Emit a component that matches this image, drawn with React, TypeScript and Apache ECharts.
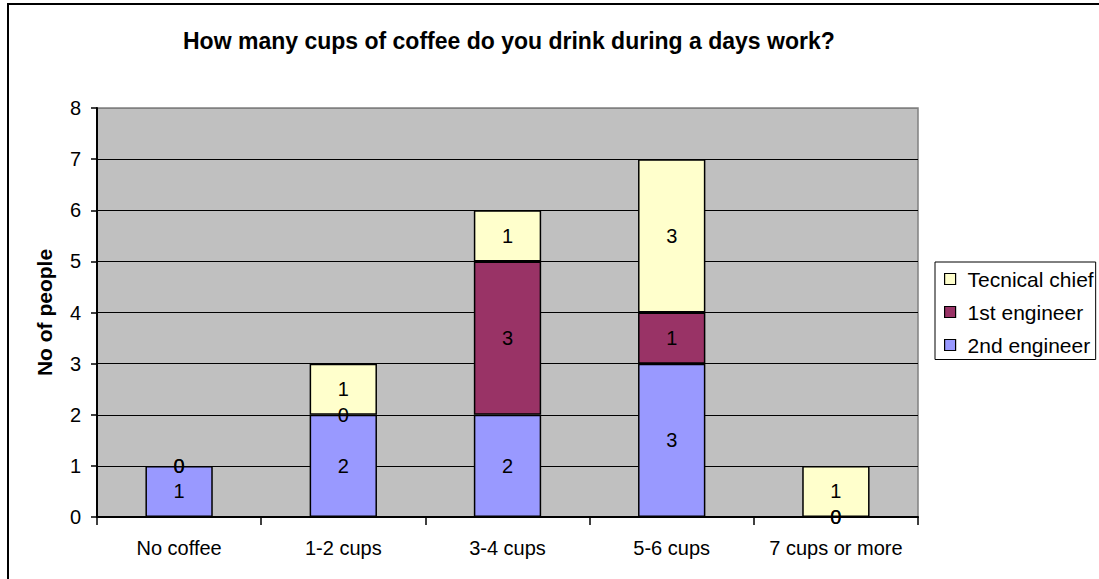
import React, { useEffect, useRef } from "react";
import * as echarts from "echarts";

// Survey answers: cups of coffee per working day, split by rank
const categories = ["No coffee", "1-2 cups", "3-4 cups", "5-6 cups", "7 cups or more"];
const secondEngineer = [1, 2, 2, 3, 0];
const firstEngineer = [0, 0, 3, 1, 0];
const technicalChief = [0, 1, 1, 3, 1];
const yTicks = [0, 1, 2, 3, 4, 5, 6, 7, 8];

const FONT = "'Liberation Sans', Arial, Helvetica, sans-serif";

const seriesDefs = [
  { name: "2nd engineer", data: secondEngineer, color: "#9999FF" },
  { name: "1st engineer", data: firstEngineer, color: "#993366" },
  { name: "Tecnical chief", data: technicalChief, color: "#FFFFCC" },
];

export default function App() {
  const ref = useRef<HTMLDivElement>(null);

  useEffect(() => {
    if (!ref.current) return;
    const chart = echarts.init(ref.current, undefined, { renderer: "svg" });

    // grid lines are black, except the top edge of the plot which is grey
    const splitColors = yTicks.map((t) => (t === yTicks[yTicks.length - 1] ? "#808080" : "#000000"));

    chart.setOption({
      animation: false,
      backgroundColor: "#ffffff",
      title: {
        text: "How many cups of coffee do you drink during a days work?",
        left: 183,
        top: 29,
        padding: 0,
        textStyle: { fontFamily: FONT, fontSize: 23, fontWeight: "bold", color: "#000" },
      },
      graphic: [
        {
          type: "rect",
          shape: { x: 8, y: 4, width: 1200, height: 700 },
          style: { fill: "none", stroke: "#000", lineWidth: 2 },
          silent: true,
        },
      ],
      legend: {
        orient: "vertical",
        left: 935,
        top: 262,
        padding: [6.5, 2, 4, 9],
        itemWidth: 11,
        itemHeight: 11,
        itemGap: 12,
        borderColor: "#000",
        borderWidth: 1,
        icon: "rect",
        data: ["Tecnical chief", "1st engineer", "2nd engineer"],
        itemStyle: { borderColor: "#000", borderWidth: 1.2 },
        textStyle: {
          fontFamily: FONT,
          fontSize: 21,
          lineHeight: 21,
          color: "#000",
          padding: [0, 0, 0, 7],
        },
      },
      grid: {
        left: 97,
        top: 108,
        right: 181,
        bottom: 62,
        show: true,
        backgroundColor: "#C0C0C0",
        borderColor: "#808080",
        borderWidth: 1.5,
      },
      xAxis: {
        type: "category",
        data: categories,
        boundaryGap: true,
        axisLine: { lineStyle: { color: "#000", width: 2 } },
        axisTick: { show: true, interval: 0, length: 8, lineStyle: { color: "#000", width: 1.5 } },
        axisLabel: { interval: 0, margin: 21, fontFamily: FONT, fontSize: 20, color: "#000" },
        splitLine: { show: false },
      },
      yAxis: {
        type: "value",
        min: 0,
        max: 8,
        interval: 1,
        name: "No of people",
        nameLocation: "middle",
        nameRotate: 90,
        nameGap: 42,
        nameTextStyle: { fontFamily: FONT, fontSize: 21, fontWeight: "bold", color: "#000" },
        axisLine: { show: true, lineStyle: { color: "#000", width: 2 } },
        axisTick: { show: true, length: 6, lineStyle: { color: "#000", width: 1.5 } },
        axisLabel: { margin: 16, fontFamily: FONT, fontSize: 20, color: "#000" },
        splitLine: { show: true, lineStyle: { color: splitColors, width: 1 } },
      },
      series: seriesDefs.map((s) => ({
        name: s.name,
        type: "bar",
        stack: "total",
        barWidth: "41%",
        // empty segments keep their "0" label but draw no outline
        data: s.data.map((v) =>
          v === 0 ? { value: v, itemStyle: { borderWidth: 0 } } : { value: v }
        ),
        itemStyle: { color: s.color, borderColor: "#000", borderWidth: 1.5 },
        label: {
          show: true,
          position: "inside",
          fontFamily: FONT,
          fontSize: 20,
          color: "#000",
          formatter: (p: any) => String(p.value),
        },
      })),
    });

    return () => chart.dispose();
  }, []);

  return (
    <div
      ref={ref}
      style={{ position: "absolute", left: 0, top: 0, width: 1099, height: 579 }}
    />
  );
}
